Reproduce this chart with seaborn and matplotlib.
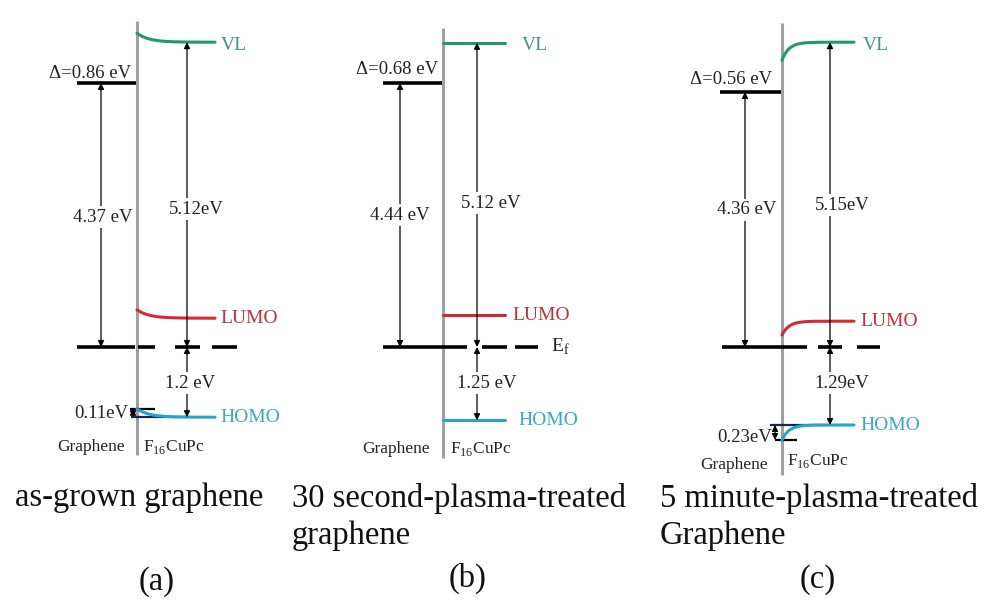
import numpy as np
import matplotlib.pyplot as plt
import seaborn as sns

sns.set_theme(style="white")
plt.rcParams['font.family'] = ['Liberation Serif', 'DejaVu Serif']
plt.rcParams['mathtext.fontset'] = 'custom'
plt.rcParams['mathtext.rm'] = 'Liberation Serif'

# ── energy levels (eV, relative to the Fermi level) per panel ─────────
graphene_vl    = [4.40, 4.40, 4.25]
vl_interface   = [5.23, 5.07, 4.78]
vl_bulk        = [5.08, 5.07, 5.08]
lumo_interface = [0.62, 0.53, 0.20]
lumo_bulk      = [0.48, 0.53, 0.43]
homo_interface = [-1.03, -1.22, -1.55]
homo_bulk      = [-1.17, -1.22, -1.30]

delta_labels = ['Δ=0.86 eV', 'Δ=0.68 eV', 'Δ=0.56 eV']
wf_labels    = ['4.37 eV', '4.44 eV', '4.36 eV']
vl_labels    = ['5.12eV', '5.12 eV', '5.15eV']
homo_labels  = ['1.2 eV', '1.25 eV', '1.29eV']
shift_labels = ['0.11eV', None, '0.23eV']
captions     = [['as-grown graphene'],
                ['30 second-plasma-treated', 'graphene'],
                ['5 minute-plasma-treated', 'Graphene']]
tags         = ['(a)', '(b)', '(c)']

GREEN, RED, CYAN, GREY = '#1f9a6a', '#d42a35', '#2aa3cc', '#a0a0a0'
PX_PER_EV, EF_PX, H = 60.0, 347, 608


def py(px):
    # pixel row -> energy on the panel axes
    return (EF_PX - px) / PX_PER_EV


# ── layout of each panel (x in pixels from the panel's left edge) ────
layout = [
    dict(iface=137, top=21, bot=455, bar0=77, arr1=101, arr2=187, end=215,
         lab=(221, 220, 220),
         ef=[(77, 135), (138, 155), (175, 200), (212, 237)], w=12,
         delta=(90, 73), wf=(103, 217), vl=(196, 209), homo=(190, 383),
         gr=(91, 447), cu=(143, 447), shift=(128, 413), sh_line=(130, 155),
         bulk_line=(131, 187), sh_x=133, ef_lab=False,
         cap=15, tag=(157, 582)),
    dict(iface=115, top=28, bot=458, bar0=55, arr1=72, arr2=149, end=177,
         lab=(194, 184, 190),
         ef=[(55, 139), (154, 179), (187, 210)], w=10,
         delta=(69, 70), wf=(72, 215), vl=(163, 203), homo=(159, 383),
         gr=(68, 449), cu=(122, 449), shift=None, ef_lab=True,
         cap=-36, tag=(140, 578)),
    dict(iface=126, top=23, bot=475, bar0=64, arr1=89, arr2=174, end=198,
         lab=(207, 204, 204),
         ef=[(66, 151), (162, 186), (201, 224)], w=7,
         delta=(75, 80), wf=(91, 210), vl=(186, 205), homo=(186, 383),
         gr=(78, 465), cu=(131, 461), shift=(116, 437), sh_line=(119, 141),
         bulk_line=(114, 172), sh_x=119, ef_lab=False,
         cap=4, tag=(162, 580)),
]
caption_rows = [498, 536]

fig = plt.figure(figsize=(9.84, 6.08), dpi=100)
fig.patch.set_facecolor('white')
small = dict(fontsize=13.5, color='#222222')
box = dict(facecolor='white', edgecolor='none', pad=1.5)


def arrow(ax, x, e0, e1, style='<|-|>'):
    ax.annotate('', xy=(x, e1), xytext=(x, e0),
                arrowprops=dict(arrowstyle=style, color='black', lw=0.9,
                                mutation_scale=9, shrinkA=0, shrinkB=0))


def bend(ax, L, e_if, e_bulk, color):
    x = np.linspace(L['iface'], L['end'], 200)
    y = e_bulk + (e_if - e_bulk) * np.exp(-(x - L['iface']) / L['w'])
    sns.lineplot(x=x, y=y, ax=ax, color=color, lw=2.2, sort=False)


for i, L in enumerate(layout):
    ax = fig.add_axes([i * 328 / 984, 0, 328 / 984, 1])
    ax.set_xlim(0, 328)
    ax.set_ylim(py(H), py(0))
    ax.axis('off')

    # interface
    ax.vlines(L['iface'], py(L['bot']), py(L['top']), color=GREY, lw=2.2, zorder=1)

    # graphene vacuum level and Fermi level
    ax.hlines(graphene_vl[i], L['bar0'], L['iface'] - 1, color='black', lw=2.6, zorder=3)
    for a, b in L['ef']:
        ax.hlines(0, a, b, color='black', lw=2.6, zorder=3)

    # F16CuPc levels
    if L['shift']:
        ax.hlines(homo_bulk[i], *L['bulk_line'], color='#1a2a44', lw=1.6, zorder=2)
        ax.hlines(homo_interface[i], *L['sh_line'], color='black', lw=1.6, zorder=2)
        arrow(ax, L['sh_x'], homo_bulk[i], homo_interface[i])
    bend(ax, L, vl_interface[i], vl_bulk[i], GREEN)
    bend(ax, L, lumo_interface[i], lumo_bulk[i], RED)
    bend(ax, L, homo_interface[i], homo_bulk[i], CYAN)
    xv, xl, xh = L['lab']
    ax.text(xv, vl_bulk[i] - 0.05, 'VL', color='#3a9a78', fontsize=14, va='center')
    ax.text(xl, lumo_bulk[i], 'LUMO', color='#c2303c', fontsize=14, va='center')
    ax.text(xh, homo_bulk[i], 'HOMO', color='#3aa8cc', fontsize=14, va='center')
    if L['ef_lab']:
        ax.text(L['ef'][-1][1] + 13, 0, 'E$_\\mathrm{f}$', fontsize=14, va='center', color='#222222')

    # arrows and their labels
    arrow(ax, L['arr1'], 0, graphene_vl[i])
    arrow(ax, L['arr2'], 0, vl_bulk[i])
    arrow(ax, L['arr2'], 0, homo_bulk[i])
    ax.text(L['wf'][0], py(L['wf'][1]), wf_labels[i], ha='center', va='center', bbox=box, **small)
    ax.text(L['vl'][0], py(L['vl'][1]), vl_labels[i], ha='center', va='center', bbox=box, **small)
    ax.text(L['homo'][0], py(L['homo'][1]), homo_labels[i], ha='center', va='center',
            bbox=box, **small)
    ax.text(L['delta'][0], py(L['delta'][1]), delta_labels[i], ha='center', va='center', **small)
    if shift_labels[i]:
        ax.text(L['shift'][0], py(L['shift'][1]), shift_labels[i], ha='right', va='center', **small)

    ax.text(L['gr'][0], py(L['gr'][1]), 'Graphene', ha='center', va='center', fontsize=12.5,
            color='#222222')
    ax.text(L['cu'][0], py(L['cu'][1]), 'F$_{16}$CuPc', ha='left', va='center', fontsize=12.5,
            color='#222222')

    # captions
    for row, line in zip(caption_rows, captions[i]):
        ax.text(L['cap'], py(row), line, ha='left', va='center', fontsize=23.5, color='#111111')
    ax.text(L['tag'][0], py(L['tag'][1]), tags[i], ha='center', va='center', fontsize=23.5,
            color='#111111')

plt.savefig('out.png', dpi=100, facecolor='white')
